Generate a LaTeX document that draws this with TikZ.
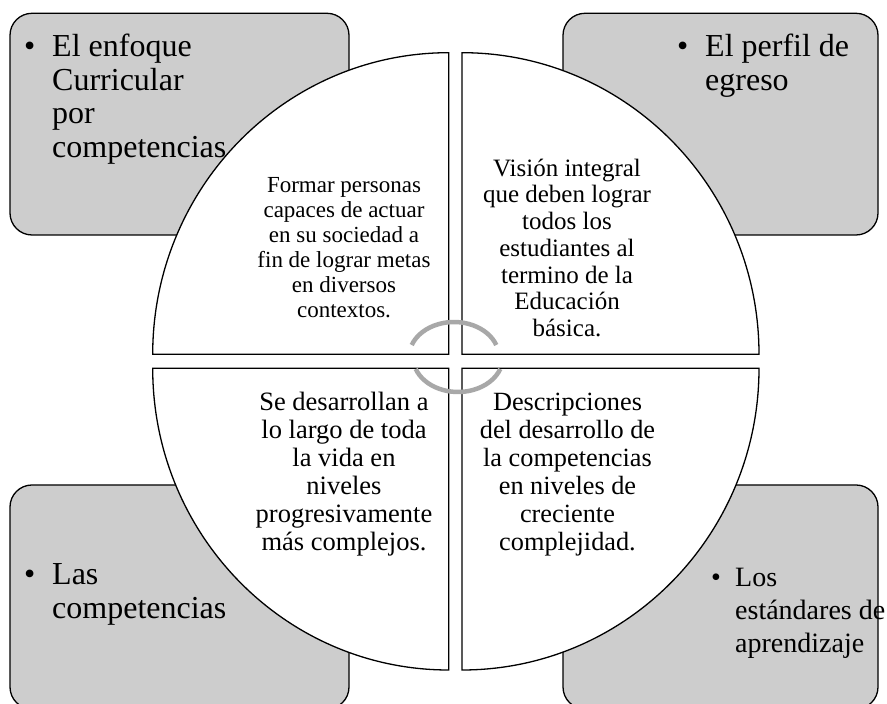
\documentclass[tikz,border=0pt]{standalone}
\usepackage{fontspec}
\setmainfont{Liberation Serif}
\definecolor{boxgray}{RGB}{205,205,205}
\definecolor{arcgray}{RGB}{168,168,168}
\tikzset{
  outerbox/.style={draw=black, line width=1.3pt, fill=boxgray, rounded corners=22pt},
  quad/.style={draw=black, line width=1.3pt, fill=white},
  cyclearc/.style={draw=arcgray, line width=4.5pt},
  bigtxt/.style={inner sep=0pt, align=left, anchor=base west, font=\fontsize{32}{33.5}\selectfont},
  bul/.style={inner sep=0pt, anchor=base west, font=\fontsize{32}{33.5}\selectfont},
  smalltxt/.style={inner sep=0pt, align=left, anchor=base west, font=\fontsize{28}{33}\selectfont},
  smallbul/.style={inner sep=0pt, anchor=base west, font=\fontsize{28}{33}\selectfont},
}
\begin{document}
\begin{tikzpicture}[x=1pt,y=1pt]
\useasboundingbox (0,0) rectangle (887,704);
\begin{scope}
\clip (0,0) rectangle (887,704);
% outer gray boxes
\path[outerbox] (10,469) rectangle (349,690.7);
\path[outerbox] (563,469) rectangle (878,690.7);
\path[outerbox] (10,-5) rectangle (349,219);
\path[outerbox] (563,-5) rectangle (878,219);
\end{scope}
% outer texts
\node[bul] (b1) at (24,647) {•};
\node[bigtxt] (t1) at (52,546.5) {El enfoque\\Curricular\\por\\competencias};
\node[bul] (b2) at (677,647) {•};
\node[bigtxt] (t2) at (705,613.5) {El perfil de\\egreso};
\node[bul] (b3) at (24,119) {•};
\node[bigtxt] (t3) at (52,85.5) {Las\\competencias};
% quadrants
\path[quad] (448.7,349.7) -- (152.7,349.7) arc[start angle=180, end angle=90, x radius=296pt, y radius=301.6pt] -- cycle;
\path[quad] (462,349.7) -- (462,651.3) arc[start angle=90, end angle=0, x radius=297pt, y radius=301.6pt] -- cycle;
\path[quad] (448.7,335.7) -- (152.7,335.7) arc[start angle=180, end angle=270, x radius=296pt, y radius=301.7pt] -- cycle;
\path[quad] (462,335.7) -- (759,335.7) arc[start angle=0, end angle=-90, x radius=297pt, y radius=301.7pt] -- cycle;
% bottom-right outer text (drawn over the circle edge)
\node[smallbul] (b4) at (711,117) {•};
\node[smalltxt] (t4) at (735,51) {Los\\estándares de\\aprendizaje};
% quadrant texts
\node[align=center, inner sep=0pt, font=\fontsize{23}{25}\selectfont] (q1) at (344,456.5) {Formar personas\\capaces de actuar\\en su sociedad a\\fin de lograr metas\\en diversos\\contextos.};
\node[align=center, inner sep=0pt, font=\fontsize{25}{26.7}\selectfont] (q2) at (567,456.2) {Visión integral\\que deben lograr\\todos los\\estudiantes al\\termino de la\\Educación\\básica.};
\node[align=center, inner sep=0pt, font=\fontsize{26.5}{28}\selectfont] (q3) at (344,229.5) {Se desarrollan a\\lo largo de toda\\la vida en\\niveles\\progresivamente\\más complejos.};
\node[align=center, inner sep=0pt, font=\fontsize{26.3}{28}\selectfont] (q4) at (567.5,229) {Descripciones\\del desarrollo de\\la competencias\\en niveles de\\creciente\\complejidad.};
% central cycle arcs
\draw[cyclearc] (454,347) ++(20:45pt and 35pt) arc[start angle=20, end angle=160, x radius=45pt, y radius=35pt];
\draw[cyclearc] (458,347) ++(200:45pt and 35pt) arc[start angle=200, end angle=340, x radius=45pt, y radius=35pt];
\end{tikzpicture}
\end{document}
